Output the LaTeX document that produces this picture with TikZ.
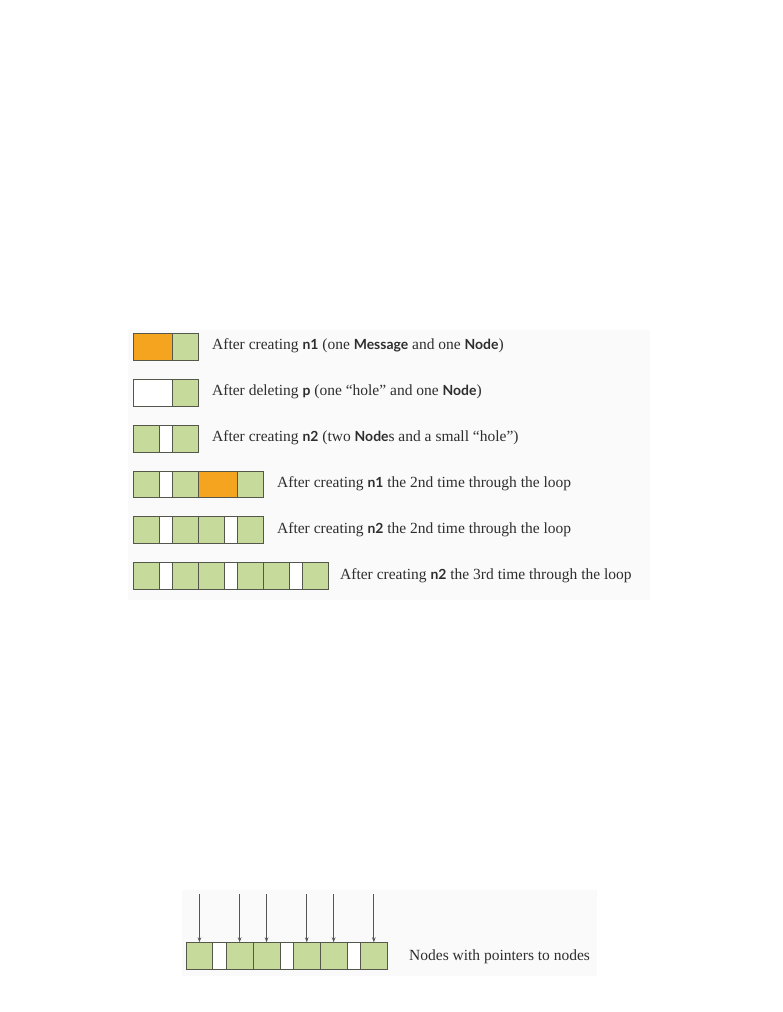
\documentclass[tikz,border=0pt]{standalone}
\usepackage{fontspec}
\setmainfont{Liberation Serif}
\newfontfamily\codefont[Scale=0.9]{Lato}
\usetikzlibrary{arrows.meta}
\definecolor{msgcol}{HTML}{F5A41F}
\definecolor{nodecol}{HTML}{C6DA9C}
\definecolor{bordercol}{HTML}{55574A}
\definecolor{txtcol}{HTML}{2E2E2E}
\definecolor{arrcol}{HTML}{555555}
\definecolor{bgcol}{HTML}{FAFAFA}
\newcommand{\cw}[1]{{\codefont\bfseries #1}}
\tikzset{
  cell/.style={rectangle, draw=bordercol, line width=0.9pt, inner sep=0pt, outer sep=0pt,
    minimum height=26.7pt, anchor=north west},
  M/.style={cell, fill=msgcol, minimum width=39pt},
  N/.style={cell, fill=nodecol, minimum width=26pt},
  H/.style={cell, fill=white, minimum width=13pt},
  W/.style={cell, fill=white, minimum width=39pt},
  NB/.style={cell, fill=nodecol, minimum width=26.9pt, minimum height=27pt},
  HB/.style={cell, fill=white, minimum width=13.3pt, minimum height=27pt},
  label/.style={anchor=west, inner sep=0pt, text=txtcol, font=\fontsize{15.5}{18}\selectfont},
  ptr/.style={draw=arrcol, line width=0.8pt, -{Stealth[length=5pt,width=3.6pt]}}
}
\begin{document}
\begin{tikzpicture}[x=1pt,y=-1pt]
\useasboundingbox (0,0) rectangle (782,1012);
\fill[bgcol] (128,330) rectangle (650,600);
\fill[bgcol] (182,890) rectangle (597,976);
% row 1
\foreach \t/\x [count=\i] in {M/133,N/172} \node[\t] (ra\i) at (\x,333.3) {};
\node[label] (ta) at (212,346.2) {After creating \cw{n1} (one \cw{Message} and one \cw{Node})};
% row 2
\foreach \t/\x [count=\i] in {W/133,N/172} \node[\t] (rb\i) at (\x,379.3) {};
\node[label] (tb) at (212,392.2) {After deleting \cw{p} (one “hole” and one \cw{Node})};
% row 3
\foreach \t/\x [count=\i] in {N/133,H/159,N/172} \node[\t] (rc\i) at (\x,425.3) {};
\node[label] (tc) at (212,438.2) {After creating \cw{n2} (two \cw{Node}s and a small “hole”)};
% row 4
\foreach \t/\x [count=\i] in {N/133,H/159,N/172,M/198,N/237} \node[\t] (rd\i) at (\x,471) {};
\node[label] (td) at (277,483.8) {After creating \cw{n1} the 2nd time through the loop};
% row 5
\foreach \t/\x [count=\i] in {N/133,H/159,N/172,N/198,H/224,N/237} \node[\t] (re\i) at (\x,516.7) {};
\node[label] (te) at (277,529.5) {After creating \cw{n2} the 2nd time through the loop};
% row 6
\foreach \t/\x [count=\i] in {N/133,H/159,N/172,N/198,H/224,N/237,N/263,H/289,N/302} \node[\t] (rf\i) at (\x,562.7) {};
\node[label] (tf) at (340,575.5) {After creating \cw{n2} the 3rd time through the loop};
% bottom
\foreach \t/\x [count=\i] in {NB/186,HB/212.9,NB/226.2,NB/253.1,HB/280,NB/293.3,NB/320.2,HB/347.1,NB/360.4} \node[\t] (rg\i) at (\x,942.3) {};
\node[label] (tg) at (409,956.5) {Nodes with pointers to nodes};
\foreach \i in {1,3,4,6,7,9} {
  \coordinate (pg\i) at ([yshift=48pt]rg\i.north);
  \draw[ptr] (pg\i) -- (rg\i.north);
}
\end{tikzpicture}
\end{document}
